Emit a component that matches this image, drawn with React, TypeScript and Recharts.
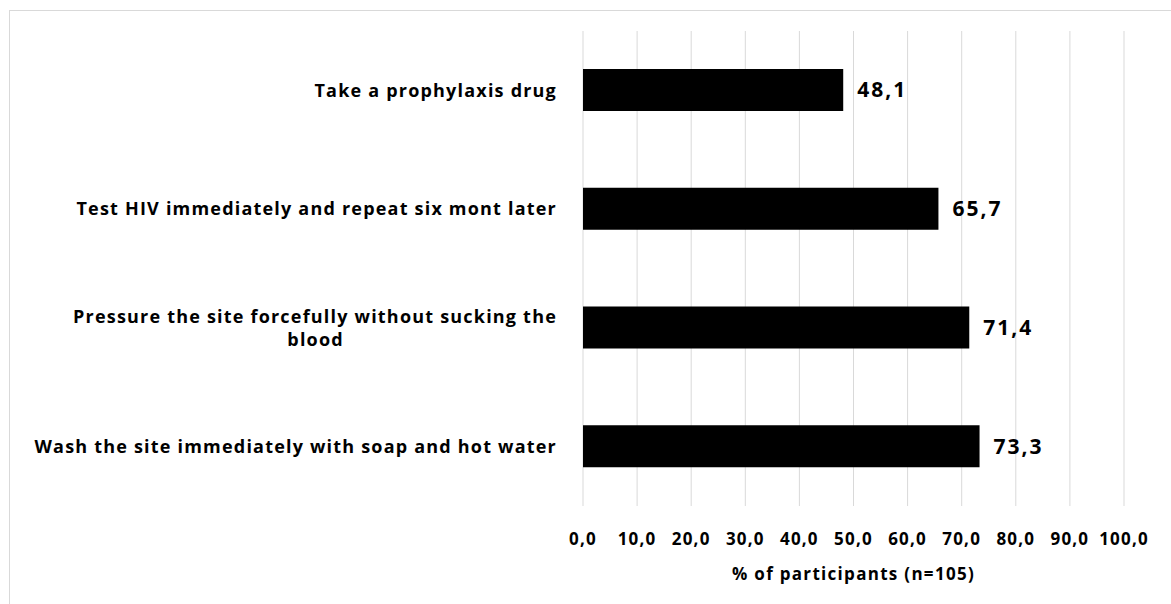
import { BarChart, Bar, XAxis, YAxis, CartesianGrid, LabelList, Label } from "recharts";

const categories = [
  "Take a prophylaxis drug",
  "Test HIV immediately and repeat six mont later",
  "Pressure the site forcefully without sucking the blood",
  "Wash the site immediately with soap and hot water",
];

const percentages = [48.1, 65.7, 71.4, 73.3];

const xTicks = [0, 10, 20, 30, 40, 50, 60, 70, 80, 90, 100];

const axisTitle = "% of participants (n=105)";

const data = categories.map((name, i) => ({ name, value: percentages[i] }));

const FONT = "'Open Sans', sans-serif";
const CAT_SIZE = 18;
const CAT_LS = 1.2;
const MAX_CHARS = 49;

const comma = (v: number) => v.toFixed(1).replace(".", ",");

let ctx: CanvasRenderingContext2D | null = null;
function measure(text: string) {
  if (!ctx) ctx = document.createElement("canvas").getContext("2d");
  const extra = (text.length - 1) * CAT_LS;
  if (!ctx) return text.length * CAT_SIZE * 0.55 + extra;
  ctx.font = `bold ${CAT_SIZE}px "Open Sans"`;
  return ctx.measureText(text).width + extra;
}

function wrap(text: string) {
  const lines: string[] = [];
  let cur = "";
  text.split(" ").forEach((w) => {
    const next = cur ? cur + " " + w : w;
    if (next.length > MAX_CHARS && cur) {
      lines.push(cur);
      cur = w;
    } else cur = next;
  });
  if (cur) lines.push(cur);
  return lines;
}

function CategoryTick(props: any) {
  const { x, y, payload } = props;
  const lines = wrap(payload.value);
  const lh = 23;
  const firstW = measure(lines[0]);
  const center = x - firstW / 2;
  const y0 = y - ((lines.length - 1) * lh) / 2;
  return (
    <g>
      {lines.map((ln, i) => (
        <text
          key={i}
          x={i === 0 ? x : center}
          y={y0 + i * lh}
          dy="0.35em"
          textAnchor={i === 0 ? "end" : "middle"}
          fontFamily={FONT}
          fontWeight="bold"
          fontSize={CAT_SIZE}
          letterSpacing={CAT_LS}
          fill="#000"
        >
          {ln}
        </text>
      ))}
    </g>
  );
}

export default function App() {
  return (
    <div
      style={{
        position: "absolute",
        left: 0,
        top: 0,
        width: 1171,
        height: 604,
        background: "#fff",
        overflow: "hidden",
      }}
    >
      <div
        style={{
          position: "absolute",
          left: 9,
          top: 10,
          width: 1300,
          height: 800,
          border: "1px solid #d9d9d9",
        }}
      />
      <div style={{ position: "absolute", left: 0, top: 0 }}>
        <BarChart
          width={1171}
          height={604}
          data={data}
          layout="vertical"
          margin={{ top: 31, right: 47, bottom: 0, left: 0 }}
          barCategoryGap={0}
        >
          <CartesianGrid horizontal={false} stroke="#d9d9d9" />
          <XAxis
            type="number"
            domain={[0, 100]}
            ticks={xTicks}
            tickFormatter={comma}
            axisLine={false}
            tickLine={false}
            tickSize={0}
            tickMargin={27}
            height={98}
            interval={0}
            tick={{
              fill: "#000",
              fontFamily: FONT,
              fontWeight: "bold",
              fontSize: 17,
              letterSpacing: 1.2,
            }}
          >
            <Label
              value={axisTitle}
              position="insideBottom"
              offset={24}
              fill="#000"
              fontFamily={FONT}
              fontWeight="bold"
              fontSize={17}
              letterSpacing={1.3}
            />
          </XAxis>
          <YAxis
            type="category"
            dataKey="name"
            width={583}
            axisLine={false}
            tickLine={false}
            tickSize={0}
            tickMargin={26}
            interval={0}
            tick={<CategoryTick />}
          />
          <Bar dataKey="value" fill="#000" barSize={42} isAnimationActive={false}>
            <LabelList
              dataKey="value"
              position="right"
              offset={14}
              formatter={(v: any) => comma(Number(v))}
              fill="#000"
              fontFamily={FONT}
              fontWeight="bold"
              fontSize={21}
              letterSpacing={2}
            />
          </Bar>
        </BarChart>
      </div>
    </div>
  );
}
